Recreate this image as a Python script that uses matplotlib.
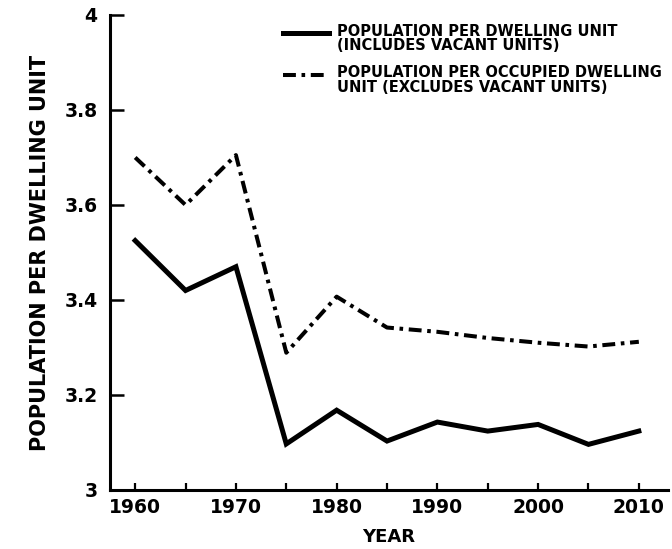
import matplotlib
matplotlib.use("Agg")
import matplotlib.pyplot as plt
import numpy as np
from matplotlib.legend_handler import HandlerLine2D

years = [1960, 1965, 1970, 1975, 1980, 1985, 1990, 1995, 2000, 2005, 2010]
pop_per_unit = [3.525, 3.42, 3.47, 3.097, 3.168, 3.103, 3.143, 3.124, 3.138, 3.096, 3.124]
pop_per_occupied = [3.70, 3.60, 3.705, 3.289, 3.407, 3.342, 3.333, 3.320, 3.310, 3.302, 3.312]
xticks = [1960, 1970, 1980, 1990, 2000, 2010]
yticks = [3, 3.2, 3.4, 3.6, 3.8, 4]
ytick_labels = ["3", "3.2", "3.4", "3.6", "3.8", "4"]
label_solid = "POPULATION PER DWELLING UNIT\n(INCLUDES VACANT UNITS)"
label_dash = "POPULATION PER OCCUPIED DWELLING\nUNIT (EXCLUDES VACANT UNITS)"

plt.rcParams['font.family'] = ['DejaVu Sans']
plt.rcParams['font.weight'] = 'bold'


class UpHandler(HandlerLine2D):
    def create_artists(self, legend, orig_handle, xdescent, ydescent, width,
                       height, fontsize, trans):
        arts = super().create_artists(legend, orig_handle, xdescent, ydescent,
                                      width, height, fontsize, trans)
        for a in arts:
            a.set_ydata(np.asarray(a.get_ydata()) + 0.45 * fontsize)
        return arts


fig = plt.figure(figsize=(6.72, 5.49), dpi=100)
ax = fig.add_axes([0.1637, 0.1075, 0.8304, 0.8652])

l1, = ax.plot(years, pop_per_unit, color='black', lw=3.6, solid_joinstyle='miter',
              label=label_solid)
l2, = ax.plot(years, pop_per_occupied, color='black', lw=2.9,
              dashes=(3.2, 1.4, 0.9, 1.4), label=label_dash)

ax.set_xlim(1957.5, 2012.9)
ax.set_ylim(3, 4)
ax.set_xticks(list(range(1960, 2011, 5)))
ax.set_xticklabels([str(y) if y in xticks else "" for y in range(1960, 2011, 5)],
                   fontsize=13.5, fontweight='bold')
ax.set_yticks(yticks)
ax.set_yticklabels(ytick_labels, fontsize=13.5, fontweight='bold')
ax.tick_params(axis='x', direction='in', length=5, width=1.6, pad=6)
ax.tick_params(axis='y', direction='in', length=10, width=1.8, pad=9)
for s in ['top', 'right']:
    ax.spines[s].set_visible(False)
for s in ['left', 'bottom']:
    ax.spines[s].set_linewidth(2.2)

ax.set_xlabel("YEAR", fontsize=13, fontweight='bold', labelpad=8)
ax.set_ylabel("POPULATION PER DWELLING UNIT", fontsize=15, fontweight='bold',
              labelpad=10)

leg = ax.legend(handles=[l1, l2], loc='upper right', bbox_to_anchor=(1.0, 0.994),
                frameon=False, prop={'size': 10.5, 'weight': 'bold'},
                handlelength=3.1, handletextpad=0.6, labelspacing=0.85,
                borderaxespad=0.0,
                handler_map={l1: UpHandler(), l2: UpHandler()})
for t in leg.get_texts():
    t.set_linespacing(0.95)

fig.savefig("out.png", dpi=100)
